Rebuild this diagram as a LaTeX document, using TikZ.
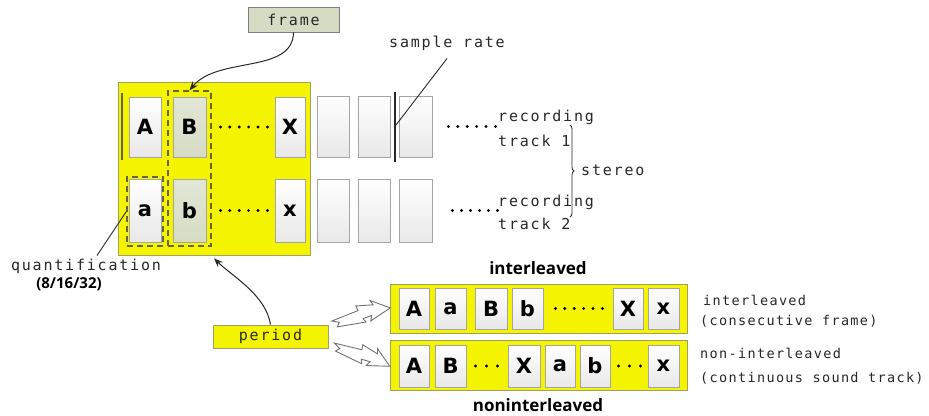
\documentclass[tikz,border=0pt]{standalone}
\usepackage{fontspec}
\setmainfont{Open Sans}
\newfontfamily\lblmono{DejaVu Sans Mono}[LetterSpace=12]
\newfontfamily\lblmonoS{DejaVu Sans Mono}[LetterSpace=10]
\newfontfamily\cellfont{DejaVu Sans}
\usetikzlibrary{calc,decorations.pathreplacing,arrows.meta}

\definecolor{ylw}{RGB}{244,244,0}
\definecolor{ylwedge}{RGB}{160,160,100}
\definecolor{framegreen}{RGB}{214,220,196}
\definecolor{celledge}{RGB}{165,165,165}
\definecolor{dashol}{RGB}{105,100,55}
\definecolor{ink}{RGB}{40,40,40}

\tikzset{
  panelbox/.style={rectangle, draw=ylwedge, line width=0.8pt, fill=ylw, inner sep=0pt},
  cell/.style={rectangle, draw=celledge, line width=0.8pt, top color=white,
    bottom color=black!9, inner sep=0pt, text=black,
    font=\cellfont\bfseries\fontsize{21}{21}\selectfont},
  greencell/.style={top color=framegreen!70, bottom color=framegreen},
  dashbox/.style={rectangle, draw=dashol, line width=1.3pt, dash pattern=on 6pt off 4pt, inner sep=0pt},
  dotrow/.style={line width=3.2pt, line cap=round, dash pattern=on 0pt off #1, draw=black},
  mono/.style={text=ink, inner sep=0pt, font=\lblmono\fontsize{15}{15}\selectfont},
  monos/.style={text=ink, inner sep=0pt, font=\lblmonoS\fontsize{13.5}{13.5}\selectfont},
  boldlbl/.style={text=black, inner sep=0pt, font=\bfseries\fontsize{17}{17}\selectfont},
  tagbox/.style={rectangle, draw=gray, line width=0.8pt, inner sep=0pt},
  curvearrow/.style={draw=ink, line width=1pt, -{Stealth[length=9pt,width=7pt]}},
  thinline/.style={draw=ink, line width=0.9pt},
  boltstyle/.style={draw=gray!90!black, line width=0.9pt, fill=white, line join=miter},
  bolt/.pic={
    \path[boltstyle] (0,-1) -- (28,-5) -- (27,-10) -- (44,-7) -- (42,-12) -- (60,0)
      -- (38,8) -- (40,3) -- (31,4) -- (33,8) -- (4,6) -- (7,2) -- cycle;
  },
}

\begin{document}
\begin{tikzpicture}[x=1pt, y=-1pt]
\path[use as bounding box, fill=white] (0,0) rectangle (929,415);

% ---- frame buffer panel: two recording tracks ----
\node[panelbox, minimum width=192pt, minimum height=173pt] (panel) at (214,168.5) {};

\node[cell, minimum width=32pt, minimum height=60pt] (cA) at (145,127) {A};
\node[cell, greencell, minimum width=33pt, minimum height=60pt] (cB) at (189.5,127) {B};
\node[cell, minimum width=30pt, minimum height=60pt] (cX) at (290,127) {X};
\node[cell, minimum width=32pt, minimum height=61pt] (e11) at (333,126.5) {};
\node[cell, minimum width=32pt, minimum height=61pt] (e12) at (374,126.5) {};
\node[cell, minimum width=33pt, minimum height=61pt] (e13) at (415.5,126.5) {};

\node[cell, minimum width=32pt, minimum height=63pt] (ca) at (145,210.5) {a};
\node[cell, greencell, minimum width=33pt, minimum height=63pt] (cb) at (189.5,210.5) {b};
\node[cell, minimum width=30pt, minimum height=63pt] (cx) at (290,210.5) {x};
\node[cell, minimum width=32pt, minimum height=63pt] (e21) at (333,210.5) {};
\node[cell, minimum width=32pt, minimum height=63pt] (e22) at (374,210.5) {};
\node[cell, minimum width=33pt, minimum height=63pt] (e23) at (415.5,210.5) {};

% frame column and single sample
\node[dashbox, minimum width=43pt, minimum height=155pt] (bcol) at (189.5,168.5) {};
\node[dashbox, minimum width=36pt, minimum height=69pt] (acol) at (145,211.5) {};

% period boundary and sample-rate markers
\draw[draw=dashol, line width=1.3pt] (122,93) -- (122,160);
\draw[draw=ink, line width=1.3pt] (395,92) -- (395,162);
\coordinate (srmark) at (396,125);

% dotted continuations (six dots, 9.4pt apart)
\draw[dotrow=9.4pt] ($(cB.east)+(14,0)$) -- +(48,0);
\draw[dotrow=9.4pt] ($(cb.east)+(14,0)$) -- +(48,0);
\draw[dotrow=9.4pt] ($(e13.east)+(16,0)$) -- +(48,0);
\draw[dotrow=9pt] ($(e23.east)+(20,0)$) -- +(46,0);

% track labels
\node[mono, anchor=west] (rec1) at (498,117) {recording};
\node[mono, anchor=west] (trk1) at (498,141) {track 1};
\node[mono, anchor=west] (rec2) at (498,202) {recording};
\node[mono, anchor=west] (trk2) at (498,224) {track 2};
\draw[draw=ink, line width=0.8pt, decorate, decoration={brace, amplitude=4pt}]
  (570,125) -- (570,217);
\node[mono, anchor=west] (ster) at (581,170) {stereo};

% sample rate
\node[mono] (srate) at (447,43) {sample rate};
\draw[thinline] ([yshift=-8pt]srate.south) -- (srmark);

% frame label
\node[tagbox, fill=framegreen, minimum width=91pt, minimum height=25pt, mono] (frm) at (293.5,19.5) {frame};
\draw[curvearrow] (frm.south) .. controls (293,74) and (218,56) .. (bcol.north);

% quantification
\node[mono] (quant) at (86,266) {quantification};
\node[boldlbl, font=\bfseries\fontsize{15}{15}\selectfont] (qbits) at (69,284) {(8/16/32)};
\draw[thinline] ([xshift=11pt,yshift=3pt]quant.north) -- (acol.west);

% period
\node[tagbox, fill=ylw, draw=ylwedge, minimum width=115pt, minimum height=23pt, mono] (per) at (270.5,336.5) {period};
\draw[curvearrow] (per.north) .. controls (266,295) and (232,276) .. ([yshift=-3pt]panel.south);

% interleaved buffer
\node[boldlbl] (lint) at (538,268) {interleaved};
\node[panelbox, minimum width=297pt, minimum height=49pt] (ibar) at (538.5,308.5) {};
\node[cell, minimum width=30pt, minimum height=41pt] (iA) at (414,308.5) {A};
\node[cell, minimum width=31pt, minimum height=41pt] (ia) at (450.5,308.5) {a};
\node[cell, minimum width=32pt, minimum height=41pt] (iB) at (491,308.5) {B};
\node[cell, minimum width=31pt, minimum height=41pt] (ib) at (527.5,308.5) {b};
\node[cell, minimum width=30pt, minimum height=41pt] (iX) at (628,308.5) {X};
\node[cell, minimum width=31pt, minimum height=41pt] (ix) at (663.5,308.5) {x};
\draw[dotrow=9.4pt] ($(ib.east)+(12,0)$) -- +(48,0);

% non-interleaved buffer
\node[panelbox, minimum width=297pt, minimum height=50pt] (nbar) at (538.5,365) {};
\node[cell, minimum width=30pt, minimum height=42pt] (nA) at (414,366) {A};
\node[cell, minimum width=31pt, minimum height=42pt] (nB) at (450.5,366) {B};
\node[cell, minimum width=32pt, minimum height=42pt] (nX) at (524,366) {X};
\node[cell, minimum width=30pt, minimum height=42pt] (na) at (560,366) {a};
\node[cell, minimum width=30pt, minimum height=42pt] (nb) at (595,366) {b};
\node[cell, minimum width=31pt, minimum height=42pt] (nx) at (663.5,366) {x};
\draw[dotrow=11pt] ($(nB.east)+(9,0)$) -- +(23,0);
\draw[dotrow=11pt] ($(nb.east)+(8,0)$) -- +(23,0);
\node[boldlbl] (lnon) at (538,405) {noninterleaved};

% lightning arrows from period to both layouts
\path (332,322) pic[rotate=13.6] {bolt};
\path (334,344) pic[rotate=-21.8] {bolt};

% layout descriptions
\node[monos, anchor=west] (dint1) at (703,300) {interleaved};
\node[monos, anchor=west] (dint2) at (700,321) {(consecutive frame)};
\node[monos, anchor=west] (dnon1) at (700,353) {non-interleaved};
\node[monos, anchor=west] (dnon2) at (700,378) {(continuous sound track)};
\end{tikzpicture}
\end{document}
